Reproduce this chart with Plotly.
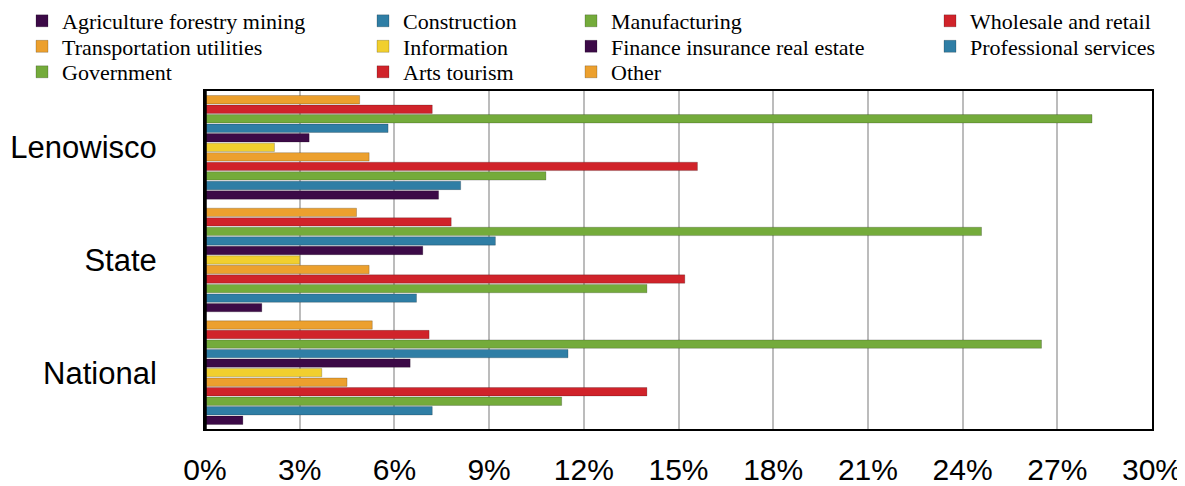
import plotly.graph_objects as go

# Regions (top to bottom in the chart)
regions = ["Lenowisco", "State", "National"]

# Industries in trace order (bottom bar of each group first)
industries = [
    "Agriculture forestry mining",
    "Construction",
    "Manufacturing",
    "Wholesale and retail",
    "Transportation utilities",
    "Information",
    "Finance insurance real estate",
    "Professional services",
    "Government",
    "Arts tourism",
    "Other",
]

# Share of employment (%), one list per industry: [Lenowisco, State, National]
agriculture = [7.4, 1.8, 1.2]
construction = [8.1, 6.7, 7.2]
manufacturing = [10.8, 14.0, 11.3]
wholesale = [15.6, 15.2, 14.0]
transportation = [5.2, 5.2, 4.5]
information = [2.2, 3.0, 3.7]
finance = [3.3, 6.9, 6.5]
professional = [5.8, 9.2, 11.5]
government = [28.1, 24.6, 26.5]
arts = [7.2, 7.8, 7.1]
other = [4.9, 4.8, 5.3]

values = [agriculture, construction, manufacturing, wholesale, transportation,
          information, finance, professional, government, arts, other]

PURPLE = "#3c0a47"
BLUE = "#2f7ea5"
GREEN = "#74ab3b"
RED = "#d0232a"
ORANGE = "#eca02e"
YELLOW = "#f1cf2e"
colors = [PURPLE, BLUE, GREEN, RED, ORANGE, YELLOW, PURPLE, BLUE, GREEN, RED, ORANGE]

# the page body adds an 8px margin, so size the figure to the visible window
PAGE = 8
W, H = 1185 - PAGE, 486 - PAGE
# plot box in window pixels: x 205..1152, y 91..429
L, T = 205 - PAGE, 91 - PAGE
R, B = W - (1152 - PAGE), H - (429 - PAGE)
pw, ph = W - L - R, H - T - B


def lx(px):
    # window pixel -> paper x
    return (px - PAGE - L) / pw


def ly(py):
    # window pixel -> paper y
    return 1 + (T - (py - PAGE)) / ph


# legend grid: text left edge of each column, centre of each row (window pixels)
col_text_x = [63, 404, 612, 971]
row_y = [21, 46.5, 72]
TEXT_OFFSET = 41  # legend box left -> text start

fig = go.Figure()
legends = {}

for i, (name, vals, color) in enumerate(zip(industries, values, colors)):
    lid = "legend" if i == 0 else f"legend{i + 1}"
    fig.add_trace(go.Bar(
        x=vals,
        y=regions,
        orientation="h",
        name=name,
        marker=dict(color=color, line=dict(color="rgba(0,0,0,0.25)", width=0.8)),
        legend=lid,
    ))
    legends[lid] = dict(
        x=lx(col_text_x[i % 4] - TEXT_OFFSET), xanchor="left",
        y=ly(row_y[i // 4]), yanchor="middle",
        font=dict(family="Liberation Serif", size=22, color="black"),
        bgcolor="rgba(0,0,0,0)",
        itemclick=False, itemdoubleclick=False,
    )

fig.update_layout(
    width=W,
    height=H,
    margin=dict(l=L, r=R, t=T, b=B, autoexpand=False),
    barmode="group",
    bargap=0.07,
    bargroupgap=0.12,
    paper_bgcolor="white",
    plot_bgcolor="white",
    font=dict(family="Liberation Sans", color="black"),
    showlegend=True,
    xaxis=dict(
        range=[0, 30],
        dtick=3,
        ticksuffix="%",
        showgrid=True,
        gridcolor="#bcbcbc",
        gridwidth=2,
        zeroline=False,
        showline=True,
        linecolor="black",
        linewidth=2,
        mirror=True,
        tickfont=dict(family="Liberation Sans", size=30, color="black"),
        ticklabelstandoff=13,
    ),
    yaxis=dict(
        categoryorder="array",
        categoryarray=regions[::-1],
        showgrid=False,
        zeroline=False,
        showline=True,
        linecolor="black",
        linewidth=2,
        mirror=True,
        tickfont=dict(family="Liberation Sans", size=31, color="black"),
        ticklabelstandoff=40,
    ),
    **legends,
)

# thicker left axis line
fig.add_shape(type="line", xref="x", yref="paper", x0=0, x1=0, y0=0, y1=1,
              line=dict(color="black", width=3.5))

fig.write_html("out.html")
